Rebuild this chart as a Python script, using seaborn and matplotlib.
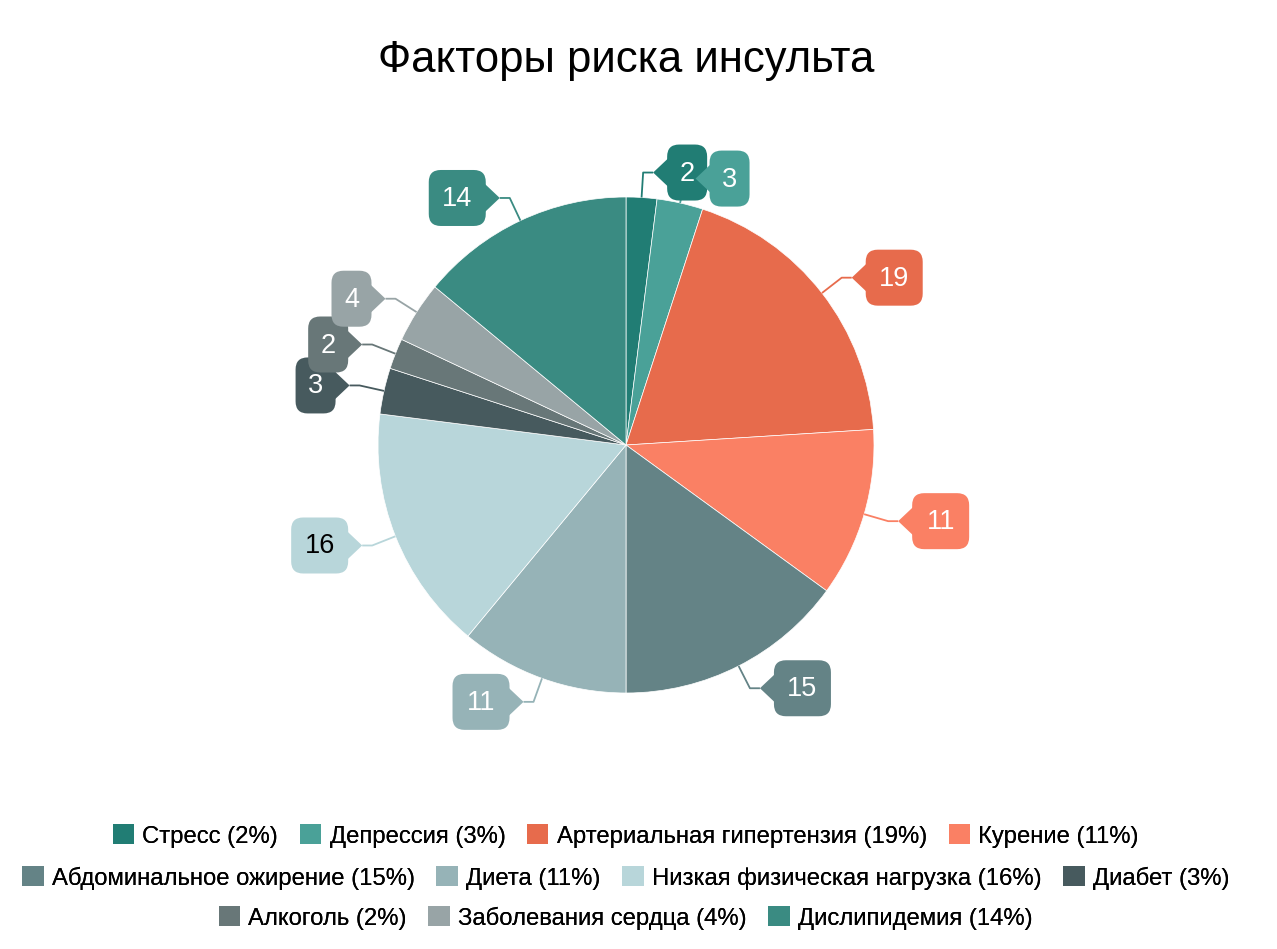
import numpy as np
import seaborn as sns
import matplotlib.pyplot as plt
from matplotlib.patches import FancyBboxPatch, Polygon, Patch

# chart data
factors = ['Стресс', 'Депрессия', 'Артериальная гипертензия', 'Курение',
           'Абдоминальное ожирение', 'Диета', 'Низкая физическая нагрузка',
           'Диабет', 'Алкоголь', 'Заболевания сердца', 'Дислипидемия']
shares = [2, 3, 19, 11, 15, 11, 16, 3, 2, 4, 14]
colors = ['#217d74', '#4aa198', '#e76b4c', '#fa8064', '#648386', '#96b3b7',
          '#b8d6da', '#475a5e', '#687778', '#98a4a6', '#3a8b82']
label_text_colors = ['white'] * 6 + ['black'] + ['white'] * 4
legend_rows = [4, 4, 3]

sns.set_theme(style='white')
plt.rcParams['font.family'] = ['Liberation Sans', 'DejaVu Sans']
plt.rcParams['text.color'] = 'black'

W, H = 1277, 949
fig = plt.figure(figsize=(W / 100, H / 100), dpi=100)
ax = fig.add_axes([0, 0, 1, 1])

cx, cy, r = 626, H - 445, 248
wedges, _ = ax.pie(shares, colors=colors, startangle=90, counterclock=False,
                   center=(cx, cy), radius=r,
                   wedgeprops=dict(linewidth=0.5, edgecolor='white'))
# pie resets the limits, so set them afterwards
ax.set_xlim(0, W)
ax.set_ylim(0, H)
ax.set_aspect('equal')
ax.axis('off')

# callout labels
total = sum(shares)
cum = np.cumsum([0] + shares[:-1])
box_h = 56
for i, v in enumerate(shares):
    theta = np.deg2rad((cum[i] + v / 2) / total * 360)
    s, c = np.sin(theta), np.cos(theta)
    side = 1 if s >= 0 else -1
    ex, ey = cx + r * s, cy + r * c
    bx, by = cx + (r + 25) * s, cy + (r + 25) * c
    tx = bx + side * 10
    edge_x = tx + side * 14
    w = 40 if v < 10 else 57
    mx = edge_x + side * w / 2
    ax.plot([ex, bx, tx], [ey, by, by], color=colors[i], lw=1.3, zorder=3,
            solid_capstyle='butt')
    ax.add_patch(Polygon([(tx, by), (edge_x + side * 4, by + 17),
                          (edge_x + side * 4, by - 17)], closed=True,
                         facecolor=colors[i], edgecolor='none', zorder=4 + i))
    ax.add_patch(FancyBboxPatch((mx - w / 2, by - box_h / 2), w, box_h,
                                boxstyle='round,pad=0,rounding_size=12',
                                facecolor=colors[i], edgecolor='none',
                                zorder=4 + i))
    ax.text(mx, by - 1, str(v), ha='center', va='center', fontsize=19.5,
            color=label_text_colors[i], zorder=20 + i)

ax.text(W / 2 - 12, H - 60, 'Факторы риска инсульта', ha='center',
        va='center', fontsize=31.5, color='black')

# legend in three centered rows
handles = [Patch(facecolor=col, edgecolor='none') for col in colors]
labels = [f'{f} ({v}%)' for f, v in zip(factors, shares)]
row_y = [836, 878, 918]
start = 0
for n, yy in zip(legend_rows, row_y):
    leg = fig.legend(handles[start:start + n], labels[start:start + n],
                     loc='center', bbox_to_anchor=(0.49, 1 - yy / H), ncol=n,
                     frameon=False, fontsize=17.2, handlelength=0.9,
                     handleheight=0.9, handletextpad=0.35, columnspacing=0.9,
                     borderaxespad=0, borderpad=0, labelcolor='black')
    fig.add_artist(leg)
    start += n

fig.savefig('out.png', dpi=100)
